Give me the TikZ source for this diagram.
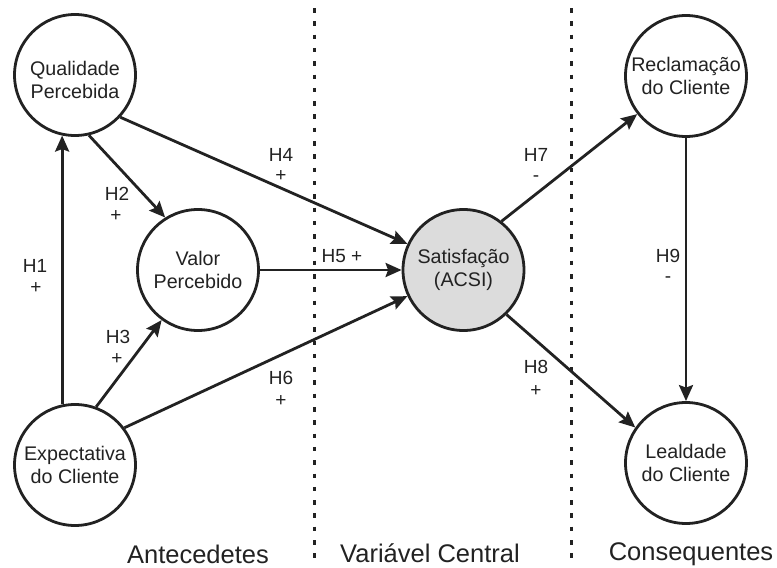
\documentclass[tikz,border=0pt]{standalone}
\usepackage{fontspec}
\setmainfont{Liberation Sans}
\usetikzlibrary{arrows.meta}
\definecolor{ink}{HTML}{222222}
\definecolor{satfill}{HTML}{DCDCDC}
\begin{document}
\begin{tikzpicture}[x=1pt,y=-1pt,
  circ/.style={circle,draw=ink,line width=2.8pt,minimum size=121pt,inner sep=0pt,
    align=center,font=\fontsize{19.7}{22.5}\selectfont,text=ink},
  conn/.style={draw=ink,line width=2.8pt,-{Stealth[length=16pt,width=14pt,inset=2.5pt]}},
  lbl/.style={font=\fontsize{19}{22}\selectfont,text=ink,inner sep=0pt},
  sect/.style={font=\fontsize{25.5}{30}\selectfont,text=ink,inner sep=0pt,anchor=base},
  divider/.style={draw=ink,line width=3pt,dash pattern=on 4.5pt off 8.8pt}]
\useasboundingbox (0,0) rectangle (777,568);
% dividers
\coordinate (d1t) at (314,8);   \coordinate (d1b) at (314,566);
\coordinate (d2t) at (571,8);   \coordinate (d2b) at (571,566);
\draw[divider] (d1t) -- (d1b);
\draw[divider] (d2t) -- (d2b);
% nodes
\node[circ] (qp) at (75,75) {\rule{0pt}{24pt}Qualidade\\Percebida};
\node[circ] (vp) at (198,270) {Valor\\Percebido};
\node[circ] (ec) at (75,465) {Expectativa\\do Cliente};
\node[circ,fill=satfill] (sat) at (463.5,270) {Satisfação\\(ACSI)};
\node[circ] (rc) at (686,76) {Reclamação\\do Cliente};
\node[circ] (lc) at (686,463) {Lealdade\\do Cliente};
% connectors
\draw[conn] (ec.102) -- (qp.258);
\draw[conn] (qp.283.6) -- (vp.122.5);
\draw[conn] (ec.70) -- (vp.234);
\draw[conn] (qp.317) -- (sat.155);
\draw[conn] (vp.east) -- (sat.west);
\draw[conn] (ec.37.6) -- (sat.205);
\draw[conn] (sat.52.4) -- (rc.218.5);
\draw[conn] (sat.314) -- (lc.145.5);
\draw[conn] (rc.south) -- (lc.north);
% labels
\node[lbl] (h1) at (35,266) {H1};  \node[lbl] (h1s) at (36,288) {+};
\node[lbl] (h2) at (117,194) {H2}; \node[lbl] (h2s) at (116,216) {+};
\node[lbl] (h3) at (118,337) {H3}; \node[lbl] (h3s) at (117,359) {+};
\node[lbl] (h4) at (281,154.5) {H4}; \node[lbl] (h4s) at (281,176) {+};
\node[lbl] (h5) at (342,256) {H5 +};
\node[lbl] (h6) at (281,378) {H6}; \node[lbl] (h6s) at (281,401) {+};
\node[lbl] (h7) at (536,155) {H7}; \node[lbl] (h7s) at (536,179) {-};
\node[lbl] (h8) at (536,367) {H8}; \node[lbl] (h8s) at (536,391) {+};
\node[lbl] (h9) at (668,256) {H9}; \node[lbl] (h9s) at (668,280) {-};
% section titles
\node[sect] (ant) at (198,563) {Antecedetes};
\node[sect] (var) at (430,562) {Variável Central};
\node[sect] (con) at (691,560) {Consequentes};
\end{tikzpicture}
\end{document}
